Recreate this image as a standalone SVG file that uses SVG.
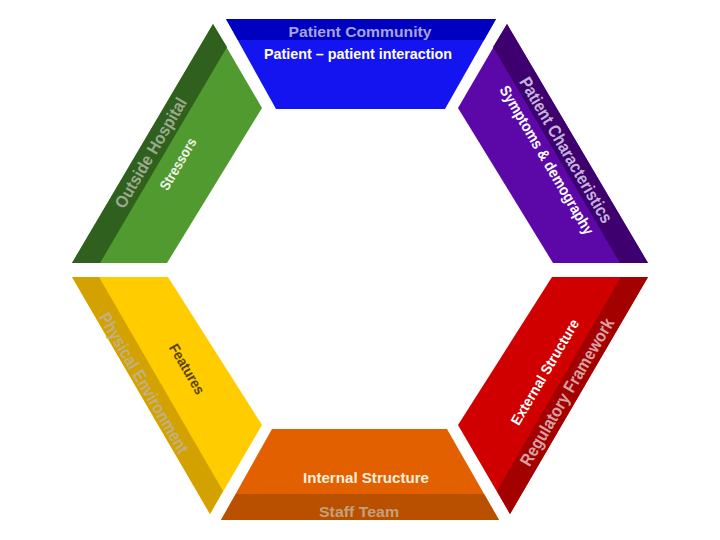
<svg xmlns="http://www.w3.org/2000/svg" width="720" height="540" viewBox="0 0 720 540">
<style>
text{font-family:"Liberation Sans","Open Sans",Arial,sans-serif;font-weight:bold;text-anchor:middle;dominant-baseline:central}
</style>
<rect width="720" height="540" fill="#ffffff"/>
<g id="patient-community">
<polygon points="226,19 496,19 445,109 276,109" fill="#1414f0"/>
<polygon points="226,19 496,19 484,40 238,40" fill="#0000c0"/>
<text x="360" y="31" font-size="15" fill="#a4a4dc" textLength="143" lengthAdjust="spacingAndGlyphs">Patient Community</text>
<text x="358" y="54" font-size="14" fill="#ffffff" textLength="188" lengthAdjust="spacingAndGlyphs">Patient – patient interaction</text>
</g>
<g id="outside-hospital">
<polygon points="213,24 262,108 167,263 72,263" fill="#509a30"/>
<polygon points="213,24 227,47 100,263 72,263" fill="#2f601e"/>
<text transform="translate(151,153) rotate(-59.5)" font-size="17" fill="#9aaa8c" textLength="125" lengthAdjust="spacingAndGlyphs">Outside Hospital</text>
<text transform="translate(178,164) rotate(-59.5)" font-size="14.5" fill="#f0f4e8" textLength="58" lengthAdjust="spacingAndGlyphs">Stressors</text>
</g>
<g id="patient-characteristics">
<polygon points="507,24 458,108 553,263 648,263" fill="#5c08a8"/>
<polygon points="507,24 493,47 620,263 648,263" fill="#3e006e"/>
<text transform="translate(566,150) rotate(59.5)" font-size="17.5" fill="#c4b4dc" textLength="166" lengthAdjust="spacingAndGlyphs">Patient Characteristics</text>
<text transform="translate(547,160) rotate(59.5)" font-size="15.5" fill="#ffffff" textLength="170" lengthAdjust="spacingAndGlyphs">Symptoms &amp; demography</text>
</g>
<g id="physical-environment">
<polygon points="72,277 168,277 262,425 210,514" fill="#ffcc00"/>
<polygon points="72,277 99,277 223,491 210,514" fill="#d4a200"/>
<text transform="translate(144,383) rotate(59.5)" font-size="17.5" fill="#c2b084" textLength="160" lengthAdjust="spacingAndGlyphs">Physical Environment</text>
<text transform="translate(187,369) rotate(59.5)" font-size="14.5" fill="#5a4408" textLength="56" lengthAdjust="spacingAndGlyphs">Features</text>
</g>
<g id="external-structure">
<polygon points="648,277 552,277 458,425 510,514" fill="#d00000"/>
<polygon points="648,277 621,277 497,491 510,514" fill="#a30000"/>
<text transform="translate(545,372) rotate(-59.5)" font-size="14.5" fill="#ffffff" textLength="120" lengthAdjust="spacingAndGlyphs">External Structure</text>
<text transform="translate(567,392) rotate(-59.5)" font-size="17.5" fill="#d8a0a0" textLength="168" lengthAdjust="spacingAndGlyphs">Regulatory Framework</text>
</g>
<g id="internal-structure">
<polygon points="272,429 447,429 499,520 221,520" fill="#e36000"/>
<polygon points="236,494 484,494 499,520 221,520" fill="#b85000"/>
<text x="366" y="478" font-size="14" fill="#fbeede" textLength="126" lengthAdjust="spacingAndGlyphs">Internal Structure</text>
<text x="359" y="511" font-size="15.5" fill="#c4a07c" textLength="80" lengthAdjust="spacingAndGlyphs">Staff Team</text>
</g>
<g id="connectors"/>
</svg>
